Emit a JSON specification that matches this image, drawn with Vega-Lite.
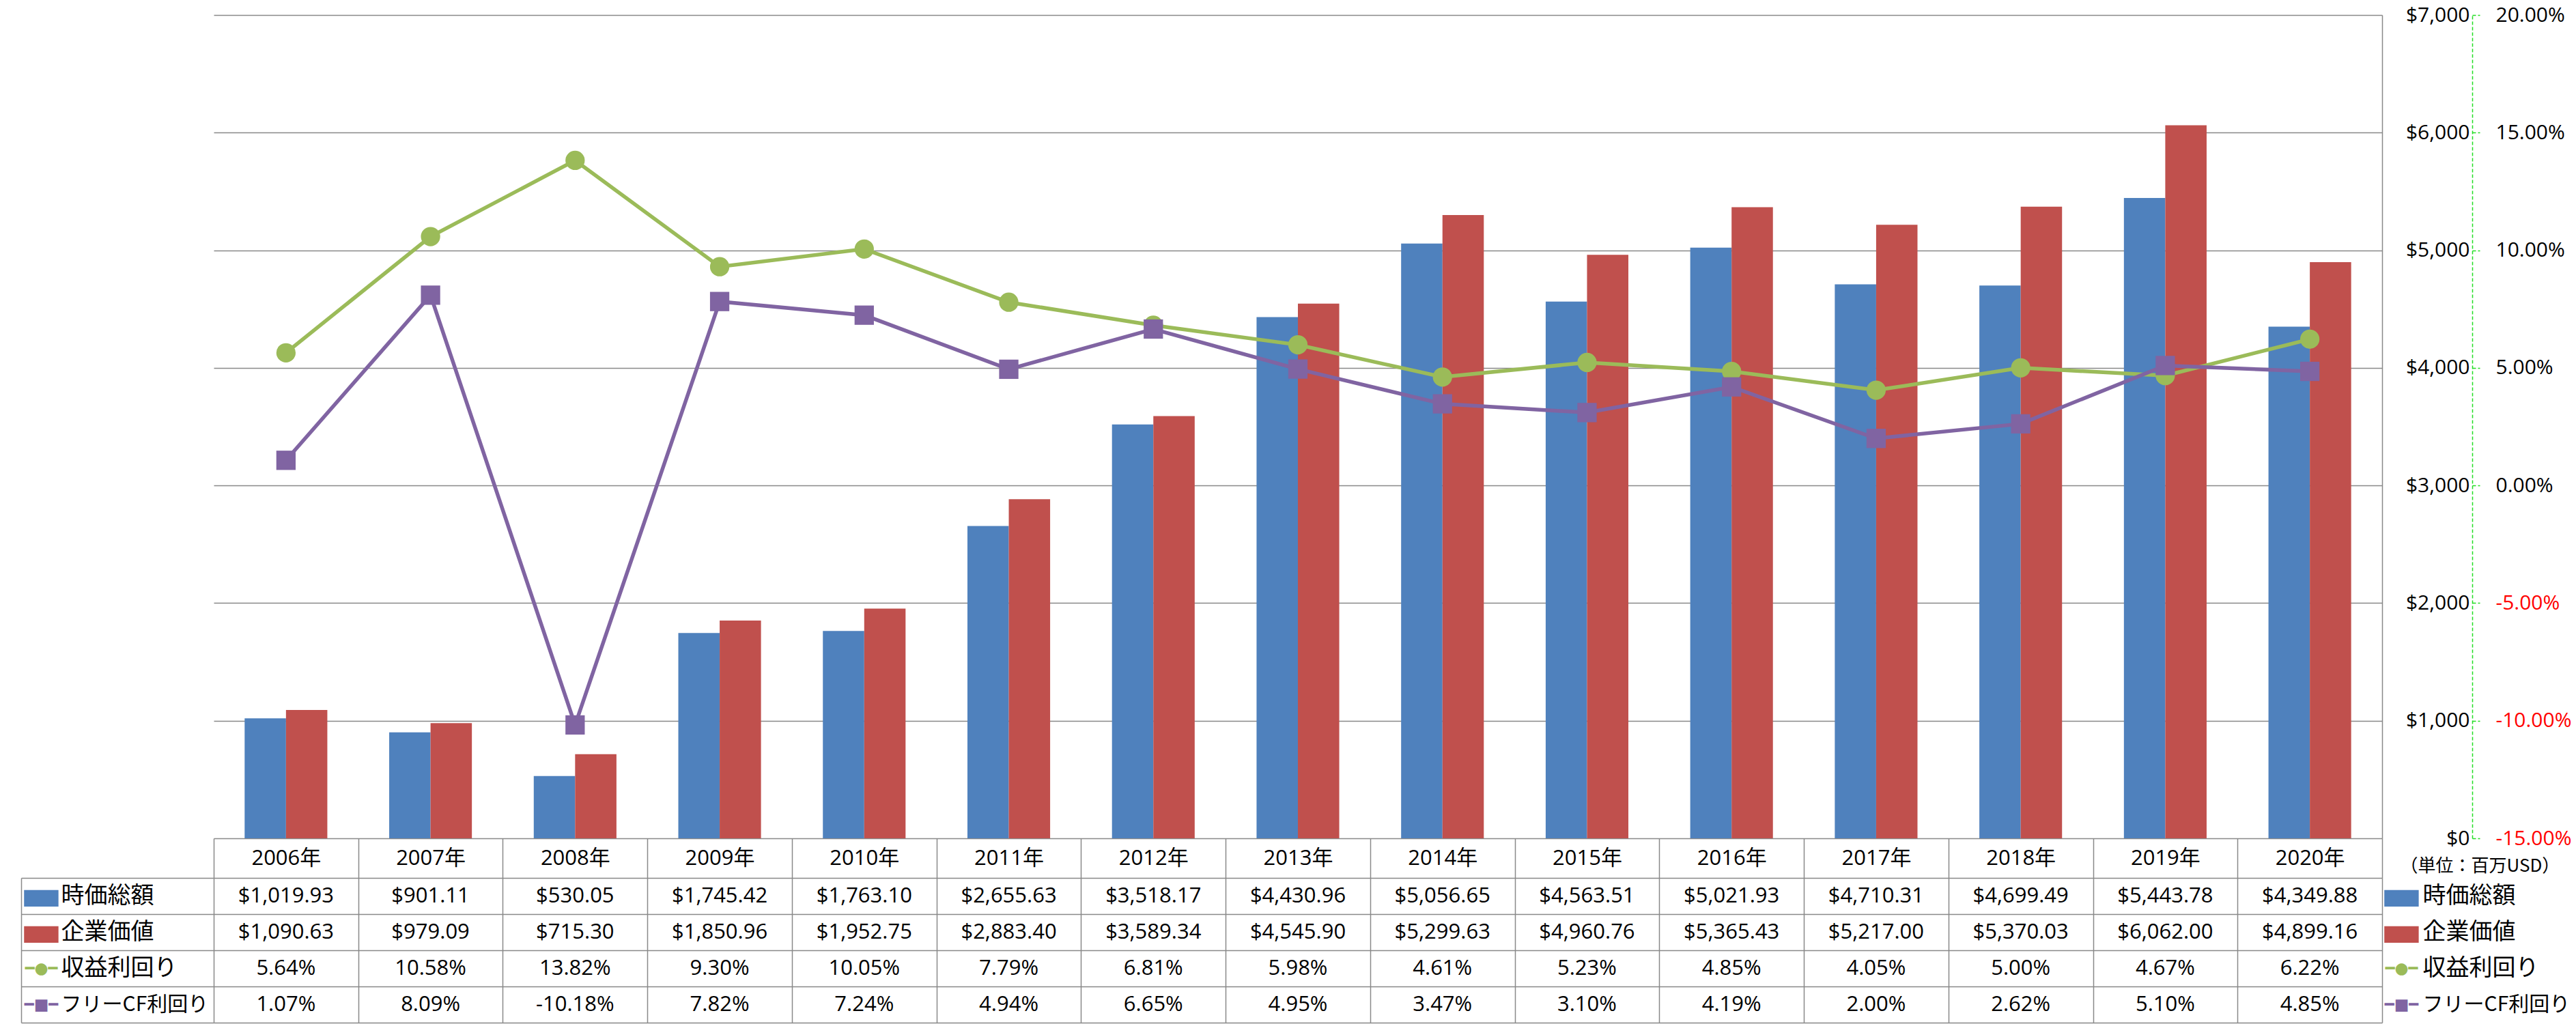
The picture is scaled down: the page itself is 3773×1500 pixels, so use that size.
{
  "$schema": "https://vega.github.io/schema/vega-lite/v6.json",
  "padding": {"left": 28, "top": 7, "right": 4, "bottom": 1},
  "bounds": "flush",
  "spacing": 58,
  "data": {
    "values": [
      {"year": "2006年", "時価総額": 1019.93, "企業価値": 1090.63, "収益利回り": 0.0564, "フリーCF利回り": 0.0107},
      {"year": "2007年", "時価総額": 901.11, "企業価値": 979.09, "収益利回り": 0.1058, "フリーCF利回り": 0.0809},
      {"year": "2008年", "時価総額": 530.05, "企業価値": 715.30, "収益利回り": 0.1382, "フリーCF利回り": -0.1018},
      {"year": "2009年", "時価総額": 1745.42, "企業価値": 1850.96, "収益利回り": 0.0930, "フリーCF利回り": 0.0782},
      {"year": "2010年", "時価総額": 1763.10, "企業価値": 1952.75, "収益利回り": 0.1005, "フリーCF利回り": 0.0724},
      {"year": "2011年", "時価総額": 2655.63, "企業価値": 2883.40, "収益利回り": 0.0779, "フリーCF利回り": 0.0494},
      {"year": "2012年", "時価総額": 3518.17, "企業価値": 3589.34, "収益利回り": 0.0681, "フリーCF利回り": 0.0665},
      {"year": "2013年", "時価総額": 4430.96, "企業価値": 4545.90, "収益利回り": 0.0598, "フリーCF利回り": 0.0495},
      {"year": "2014年", "時価総額": 5056.65, "企業価値": 5299.63, "収益利回り": 0.0461, "フリーCF利回り": 0.0347},
      {"year": "2015年", "時価総額": 4563.51, "企業価値": 4960.76, "収益利回り": 0.0523, "フリーCF利回り": 0.0310},
      {"year": "2016年", "時価総額": 5021.93, "企業価値": 5365.43, "収益利回り": 0.0485, "フリーCF利回り": 0.0419},
      {"year": "2017年", "時価総額": 4710.31, "企業価値": 5217.00, "収益利回り": 0.0405, "フリーCF利回り": 0.0200},
      {"year": "2018年", "時価総額": 4699.49, "企業価値": 5370.03, "収益利回り": 0.0500, "フリーCF利回り": 0.0262},
      {"year": "2019年", "時価総額": 5443.78, "企業価値": 6062.00, "収益利回り": 0.0467, "フリーCF利回り": 0.0510},
      {"year": "2020年", "時価総額": 4349.88, "企業価値": 4899.16, "収益利回り": 0.0622, "フリーCF利回り": 0.0485}
    ]
  },
  "vconcat": [
    {
      "width": 3176,
      "height": 1206,
      "view": {"stroke": null},
      "layer": [
        {
          "transform": [{"fold": ["時価総額", "企業価値"], "as": ["series", "v"]}],
          "mark": {"type": "bar"},
          "encoding": {
            "x": {"field": "year", "type": "nominal", "scale": {"paddingInner": 0.428, "paddingOuter": 0.214}, "axis": null},
            "xOffset": {"field": "series", "type": "nominal", "scale": {"domain": ["時価総額", "企業価値"]}},
            "y": {
              "field": "v", "type": "quantitative",
              "scale": {"domain": [0, 7000], "nice": false, "zero": true},
              "axis": {
                "orient": "right", "values": [0, 1000, 2000, 3000, 4000, 5000, 6000, 7000],
                "format": "$,.0f", "grid": true, "gridColor": "#898989", "gridWidth": 1.5,
                "domain": true, "domainColor": "#898989", "domainWidth": 1.5,
                "ticks": false, "labelAlign": "right", "labelPadding": 128,
                "labelFontSize": 30, "labelColor": "#000000", "title": null
              }
            },
            "color": {
              "field": "series", "type": "nominal",
              "scale": {"domain": ["時価総額", "企業価値", "収益利回り", "フリーCF利回り"], "range": ["#4F81BD", "#C0504D", "#9BBB59", "#8064A2"]},
              "legend": null
            }
          }
        },
        {
          "transform": [{"fold": ["収益利回り", "フリーCF利回り"], "as": ["series", "p"]}],
          "mark": {"type": "line", "strokeWidth": 5.5},
          "encoding": {
            "x": {"field": "year", "type": "nominal", "scale": {"paddingInner": 0.428, "paddingOuter": 0.214}, "axis": null},
            "y": {
              "field": "p", "type": "quantitative",
              "scale": {"domain": [-0.15, 0.2], "nice": false, "zero": false},
              "axis": {
                "orient": "right", "offset": 132,
                "values": [-0.15, -0.1, -0.05, 0, 0.05, 0.1, 0.15, 0.2],
                "format": ".2%", "grid": false,
                "domain": true, "domainColor": "#22DD22", "domainDash": [5, 3], "domainWidth": 1.5,
                "ticks": true, "tickColor": "#22DD22", "tickDash": [5, 3], "tickSize": 11, "tickWidth": 1.5,
                "labelPadding": 23, "labelFontSize": 30,
                "labelColor": {"condition": {"test": "datum.value < 0", "value": "#FF0000"}, "value": "#000000"},
                "title": null
              }
            },
            "color": {
              "field": "series", "type": "nominal",
              "scale": {"domain": ["時価総額", "企業価値", "収益利回り", "フリーCF利回り"], "range": ["#4F81BD", "#C0504D", "#9BBB59", "#8064A2"]},
              "legend": null
            }
          }
        },
        {
          "transform": [{"fold": ["収益利回り", "フリーCF利回り"], "as": ["series", "p"]}],
          "mark": {"type": "point", "filled": true, "opacity": 1, "size": 800},
          "encoding": {
            "x": {"field": "year", "type": "nominal", "scale": {"paddingInner": 0.428, "paddingOuter": 0.214}, "axis": null},
            "y": {"field": "p", "type": "quantitative", "scale": {"domain": [-0.15, 0.2], "nice": false, "zero": false}, "axis": null},
            "shape": {"field": "series", "type": "nominal", "scale": {"domain": ["収益利回り", "フリーCF利回り"], "range": ["circle", "square"]}, "legend": null},
            "color": {
              "field": "series", "type": "nominal",
              "scale": {"domain": ["時価総額", "企業価値", "収益利回り", "フリーCF利回り"], "range": ["#4F81BD", "#C0504D", "#9BBB59", "#8064A2"]},
              "legend": null
            }
          }
        }
      ],
      "resolve": {"scale": {"y": "independent"}, "axis": {"y": "independent"}}
    },
    {
      "width": 3176,
      "height": 212,
      "view": {"stroke": null},
      "layer": [
        {
          "transform": [{"fold": ["時価総額", "企業価値"], "as": ["row", "v"]}],
          "mark": {"type": "text", "fontSize": 31, "baseline": "middle", "align": "center", "color": "#000000"},
          "encoding": {
            "x": {
              "field": "year", "type": "nominal", "scale": {"padding": 0},
              "axis": {
                "orient": "top", "tickBand": "extent", "ticks": true, "tickSize": 58, "tickColor": "#898989", "tickWidth": 1.5,
                "grid": true, "gridColor": "#898989", "gridWidth": 1.5, "domain": false,
                "labelPadding": -29, "labelBaseline": "middle", "labelAngle": 0, "labelFontSize": 31, "labelColor": "#000000",
                "title": null
              }
            },
            "y": {
              "field": "row", "type": "nominal",
              "scale": {"domain": ["時価総額", "企業価値", "収益利回り", "フリーCF利回り"], "padding": 0},
              "axis": {
                "orient": "left", "tickBand": "extent", "ticks": true, "tickSize": 282, "tickColor": "#898989", "tickWidth": 1.5,
                "grid": true, "gridColor": "#898989", "gridWidth": 1.5, "domain": false,
                "labelAlign": "left", "labelBaseline": "middle", "labelPadding": -58,
                "labelFont": "Noto Sans CJK JP",
                "labelFontSize": {"condition": {"test": "datum.value == 'フリーCF利回り'", "value": 30}, "value": 34},
                "labelLimit": 0, "labelColor": "#000000",
                "title": null
              }
            },
            "text": {"field": "v", "type": "quantitative", "format": "$,.2f"}
          }
        },
        {
          "transform": [{"fold": ["収益利回り", "フリーCF利回り"], "as": ["row", "v"]}],
          "mark": {"type": "text", "fontSize": 31, "baseline": "middle", "align": "center", "color": "#000000"},
          "encoding": {
            "x": {"field": "year", "type": "nominal", "scale": {"padding": 0}, "axis": null},
            "y": {"field": "row", "type": "nominal", "scale": {"domain": ["時価総額", "企業価値", "収益利回り", "フリーCF利回り"], "padding": 0}, "axis": null},
            "text": {"field": "v", "type": "quantitative", "format": ".2%"}
          }
        },
        {
          "transform": [{"fold": ["時価総額", "企業価値", "収益利回り", "フリーCF利回り"], "as": ["row", "v"]}],
          "mark": {"type": "text", "opacity": 0},
          "encoding": {
            "y": {
              "field": "row", "type": "nominal",
              "scale": {"domain": ["時価総額", "企業価値", "収益利回り", "フリーCF利回り"], "padding": 0},
              "axis": {
                "orient": "left", "offset": 282, "domain": true, "domainColor": "#898989", "domainWidth": 1.5,
                "ticks": false, "grid": false, "labelAlign": "center", "labelBaseline": "middle", "labelPadding": -29,
                "labelFont": "DejaVu Sans", "labelLimit": 0,
                "labelExpr": "(datum.value == '時価総額' || datum.value == '企業価値') ? '▬' : (datum.value == '収益利回り' ? '━●━' : '━■━')",
                "labelColor": {"condition": [
                  {"test": "datum.value == '時価総額'", "value": "#4F81BD"},
                  {"test": "datum.value == '企業価値'", "value": "#C0504D"},
                  {"test": "datum.value == '収益利回り'", "value": "#9BBB59"}
                ], "value": "#8064A2"},
                "labelFontSize": {"condition": {"test": "datum.value == '時価総額' || datum.value == '企業価値'", "value": 66}, "value": 23},
                "title": null
              }
            },
            "text": {"value": ""}
          }
        },
        {
          "transform": [{"fold": ["時価総額", "企業価値", "収益利回り", "フリーCF利回り"], "as": ["row", "v"]}],
          "mark": {"type": "text", "opacity": 0},
          "encoding": {
            "y": {
              "field": "row", "type": "nominal",
              "scale": {"domain": ["時価総額", "企業価値", "収益利回り", "フリーCF利回り"], "padding": 0},
              "axis": {
                "orient": "right", "domain": false, "ticks": false, "grid": false,
                "labelAlign": "left", "labelBaseline": "middle", "labelPadding": 59,
                "labelFont": "Noto Sans CJK JP",
                "labelFontSize": {"condition": {"test": "datum.value == 'フリーCF利回り'", "value": 30}, "value": 34},
                "labelLimit": 0, "labelColor": "#000000",
                "title": "（単位：百万USD）", "titleAngle": 0, "titleAlign": "left", "titleBaseline": "middle",
                "titleX": 26, "titleY": -18, "titleFontSize": 26, "titleFontWeight": "normal", "titleColor": "#000000"
              }
            },
            "text": {"value": ""}
          }
        },
        {
          "transform": [{"fold": ["時価総額", "企業価値", "収益利回り", "フリーCF利回り"], "as": ["row", "v"]}],
          "mark": {"type": "text", "opacity": 0},
          "encoding": {
            "y": {
              "field": "row", "type": "nominal",
              "scale": {"domain": ["時価総額", "企業価値", "収益利回り", "フリーCF利回り"], "padding": 0},
              "axis": {
                "orient": "right", "domain": false, "ticks": false, "grid": false,
                "labelAlign": "center", "labelBaseline": "middle", "labelPadding": 28,
                "labelFont": "DejaVu Sans", "labelLimit": 0,
                "labelExpr": "(datum.value == '時価総額' || datum.value == '企業価値') ? '▬' : (datum.value == '収益利回り' ? '━●━' : '━■━')",
                "labelColor": {"condition": [
                  {"test": "datum.value == '時価総額'", "value": "#4F81BD"},
                  {"test": "datum.value == '企業価値'", "value": "#C0504D"},
                  {"test": "datum.value == '収益利回り'", "value": "#9BBB59"}
                ], "value": "#8064A2"},
                "labelFontSize": {"condition": {"test": "datum.value == '時価総額' || datum.value == '企業価値'", "value": 66}, "value": 23},
                "title": null
              }
            },
            "text": {"value": ""}
          }
        }
      ],
      "resolve": {"axis": {"x": "independent", "y": "independent"}}
    }
  ],
  "config": {
    "locale": {"number": {"decimal": ".", "thousands": ",", "grouping": [3], "currency": ["$", ""], "minus": "-"}},
    "font": "Open Sans, Noto Sans CJK JP",
    "axis": {"labelFont": "Open Sans, Noto Sans CJK JP", "titleFont": "Noto Sans CJK JP"},
    "text": {"font": "Open Sans, Noto Sans CJK JP"}
  }
}
